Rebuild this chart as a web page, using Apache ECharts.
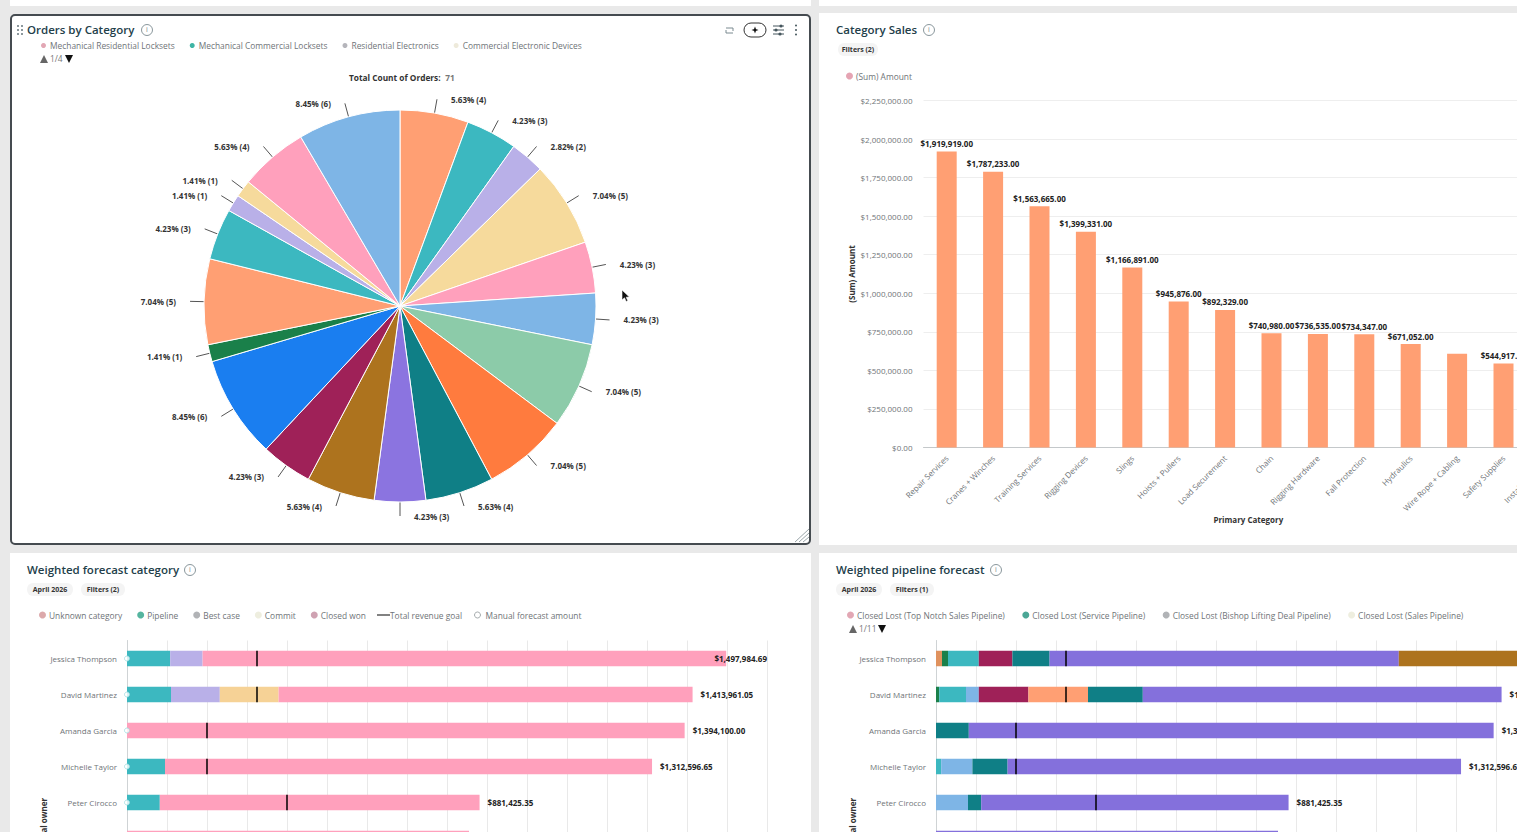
<!DOCTYPE html>
<html>
<head>
<meta charset="utf-8">
<title>Sales dashboard</title>
<script src="https://cdn.jsdelivr.net/npm/echarts@6/dist/echarts.min.js"></script>
<style>
  html, body { margin: 0; padding: 0; width: 1517px; height: 832px; overflow: hidden; background: #e9e9e9; font-family: "Open Sans", sans-serif; }
  .card { position: absolute; background: #fff; overflow: hidden; }
  .chart { position: absolute; left: 0; top: 0; }
  .strip { position: absolute; background: #fff; top: 0; height: 6px; }
  #c1 { left: 10px; top: 14px; width: 801px; height: 531px; box-sizing: border-box; border: 2px solid #454b50; border-radius: 5px; }
  #c2 { left: 819px; top: 13px; width: 760px; height: 532px; }
  #c3 { left: 10px; top: 553px; width: 801px; height: 279px; }
  #c4 { left: 819px; top: 553px; width: 760px; height: 279px; }
  .abs { position: absolute; }
  .title { position: absolute; font-size: 11.5px; font-weight: 600; color: #23404a; white-space: nowrap; line-height: 14px; }
  .info { position: absolute; width: 10px; height: 10px; border: 1px solid #8a979c; border-radius: 50%; color: #77868c; font-size: 7px; line-height: 10px; text-align: center; }
  .chip { position: absolute; height: 13px; line-height: 13px; border-radius: 6px; background: #f4f4f4; font-size: 7px; font-weight: 700; color: #333; text-align: center; }
  .pager { position: absolute; font-size: 8.4px; color: #777; white-space: nowrap; line-height: 12px; }
  .pager span { display: inline-block; width: 0; height: 0; border-left: 4.5px solid transparent; border-right: 4.5px solid transparent; vertical-align: -1px; }
  .pager .up { border-bottom: 8px solid #666; margin-right: 2px; }
  .pager .down { border-top: 8px solid #111; margin-left: 2px; }
</style>
</head>
<body>
<div class="strip" style="left:10px;width:801px"></div>
<div class="strip" style="left:819px;width:698px"></div>

<div class="card" id="c1"><div class="chart" id="pie" style="left:-2px;top:-2px;width:801px;height:531px"></div></div>
<div class="card" id="c2"><div class="chart" id="sales" style="width:760px;height:532px"></div></div>
<div class="card" id="c3"><div class="chart" id="forecast" style="width:801px;height:470px"></div></div>
<div class="card" id="c4"><div class="chart" id="pipeline" style="width:760px;height:470px"></div></div>

<!-- card headers -->
<svg class="abs" style="left:16px;top:24px" width="9" height="12"><g fill="#66767c"><circle cx="2" cy="2" r="1"/><circle cx="6" cy="2" r="1"/><circle cx="2" cy="6" r="1"/><circle cx="6" cy="6" r="1"/><circle cx="2" cy="10" r="1"/><circle cx="6" cy="10" r="1"/></g></svg>
<div class="title" style="left:27px;top:23px">Orders by Category</div><div class="info" style="left:141px;top:24px">i</div>
<div class="title" style="left:836px;top:23px">Category Sales</div><div class="info" style="left:923px;top:24px">i</div>
<div class="title" style="left:27px;top:563px">Weighted forecast category</div><div class="info" style="left:184px;top:564px">i</div>
<div class="title" style="left:836px;top:563px">Weighted pipeline forecast</div><div class="info" style="left:990px;top:564px">i</div>

<div class="chip" style="left:838px;top:43px;width:40px">Filters (2)</div>
<div class="chip" style="left:27px;top:583px;width:46px">April 2026</div>
<div class="chip" style="left:81px;top:583px;width:44px">Filters (2)</div>
<div class="chip" style="left:836px;top:583px;width:46px">April 2026</div>
<div class="chip" style="left:890px;top:583px;width:44px">Filters (1)</div>

<div class="pager" style="left:40px;top:53px"><span class="up"></span>1/4<span class="down"></span></div>
<div class="pager" style="left:849px;top:623px"><span class="up"></span>1/11<span class="down"></span></div>

<!-- toolbar of the selected card -->
<svg class="abs" style="left:722px;top:22px" width="84" height="16">
  <path d="M4 6 L11 6 L11 9 M11 11 L4 11 L4 8" fill="none" stroke="#7a8a90" stroke-width="1"/>
  <rect x="22" y="1" width="22" height="14" rx="7" fill="#fff" stroke="#333" stroke-width="1"/>
  <path d="M33 4.5 L34.3 8 L33 11.5 L31.7 8 Z M29.5 8 L33 6.7 L36.5 8 L33 9.3 Z" fill="#111"/>
  <g stroke="#44555c" stroke-width="1"><line x1="51" y1="4" x2="62" y2="4"/><line x1="51" y1="8" x2="62" y2="8"/><line x1="51" y1="12" x2="62" y2="12"/></g>
  <g fill="#44555c"><circle cx="59" cy="4" r="1.6"/><circle cx="54" cy="8" r="1.6"/><circle cx="58" cy="12" r="1.6"/></g>
  <g fill="#44555c"><circle cx="74" cy="3.5" r="1"/><circle cx="74" cy="8" r="1"/><circle cx="74" cy="12.5" r="1"/></g>
</svg>
<!-- resize grip -->
<svg class="abs" style="left:792px;top:527px" width="18" height="16"><g stroke="#9aa5a9" stroke-width="1"><line x1="17" y1="2" x2="3" y2="15"/><line x1="17" y1="6" x2="7" y2="15"/><line x1="17" y1="10" x2="11" y2="15"/></g></svg>
<!-- mouse pointer -->
<svg class="abs" style="left:621px;top:289px" width="10" height="14"><path d="M1 1 L1 11 L3.5 8.8 L5.2 12.5 L6.8 11.8 L5.2 8.2 L8.4 8 Z" fill="#111" stroke="#fff" stroke-width="0.6"/></svg>

<script>
// Orders by category
const pieCategories = [
  'Mechanical Residential Locksets', 'Mechanical Commercial Locksets', 'Residential Electronics',
  'Commercial Electronic Devices', 'Padlocks', 'Door Closers', 'Exit Devices', 'Hinges', 'Key Blanks',
  'Access Control', 'Cylinders', 'Strikes', 'Safes', 'Pivots', 'Deadbolts', 'Panic Bars',
  'Door Viewers', 'Weatherstrip', 'Key Cabinets', 'Accessories'
];
const pieOrders = [4, 3, 2, 5, 3, 3, 5, 5, 4, 3, 4, 3, 6, 1, 5, 3, 1, 1, 4, 6];
const pieColors = ['#ff9f73', '#3cb8c0', '#b9b0e8', '#f6da9c', '#ffa0bc', '#7eb5e6', '#8ccba9', '#ff7b3e',
  '#0f7f86', '#8b74e0', '#ad731e', '#9f2158', '#1a7ef0', '#1a804a', '#ff9f73', '#3cb8c0',
  '#b9b0e8', '#f6da9c', '#ffa0bc', '#7eb5e6'];
const pieLegendNames = pieCategories.slice(0, 4);
const pieLegendColors = ['#e2a7b4', '#3fb5a5', '#b5b5bb', '#eeeadb'];

// Category sales
const salesCategories = ['Repair Services', 'Cranes + Winches', 'Training Services', 'Rigging Devices', 'Slings',
  'Hoists + Pullers', 'Load Securement', 'Chain', 'Rigging Hardware', 'Fall Protection', 'Hydraulics',
  'Wire Rope + Cabling', 'Safety Supplies', 'Installation Tools'];
const salesAmounts = [1919919, 1787233, 1563665, 1399331, 1166891, 945876, 892329, 740980, 736535, 734347, 671052, 608000, 544917, 500000];
const salesUnlabelled = ['Wire Rope + Cabling'];

// Deal owners shared by both forecast charts
const owners = ['Jessica Thompson', 'David Martinez', 'Amanda Garcia', 'Michelle Taylor', 'Peter Cirocco', 'Ryan Brooks'];
const ownerTotals = [1497984.69, 1413961.05, 1394100, 1312596.65, 881425.35, 855000];
const revenueGoals = [325000, 325000, 200000, 200000, 400000];
const manualForecast = [0, 0, 0, 0, 0, 0];

// Weighted forecast by category
const forecastPipeline = [108000, 110000, 0, 95000, 82000, 0];
const forecastBestCase = [81000, 122000, 0, 0, 0, 0];
const forecastCommit = [0, 147000, 0, 0, 0, 0];
const forecastClosedWon = [1308984.69, 1034961.05, 1394100, 1217596.65, 799425.35, 855000];

// Weighted forecast by pipeline stage
const stageOpening = [15000, 0, 0, 0, 0, 0];
const stageGreen = [15000, 8000, 0, 0, 0, 0];
const stageTeal = [77000, 67000, 0, 13000, 0, 0];
const stageBlue = [0, 32000, 0, 78000, 80000, 0];
const stageCrimson = [84000, 124000, 0, 0, 0, 0];
const stagePeach = [0, 149000, 0, 0, 0, 0];
const stageDarkTeal = [93000, 137000, 82000, 88000, 33000, 0];
const stagePurple = [873000, 896961.05, 1312100, 1133596.65, 768425.35, 855000];
const stageBrown = [340984.69, 0, 0, 0, 0, 0];

const FONT = '"Open Sans", sans-serif';
const GREY = '#6f7478';
const money = v => '$' + v.toLocaleString('en-US', { minimumFractionDigits: 2, maximumFractionDigits: 2 });

function mount(id, option) {
  const chart = echarts.init(document.getElementById(id), null, { renderer: 'svg' });
  chart.setOption(option);
}

function legend(names, colors, left, top, gap, extra) {
  return Object.assign({
    left, top, orient: 'horizontal', itemWidth: 7, itemHeight: 7, itemGap: gap, icon: 'circle', selectedMode: false,
    padding: 0,
    textStyle: { fontFamily: FONT, fontSize: 8.4, color: GREY, padding: [0, 0, 0, -2] },
    data: names.map((name, i) => ({ name, itemStyle: { color: colors[i] } }))
  }, extra || {});
}

// ---- pie ----
mount('pie', {
  animation: false,
  textStyle: { fontFamily: FONT },
  title: {
    left: 339, top: 54, padding: 0,
    text: '{b|Total Count of Orders:} {n|' + pieOrders.reduce((a, b) => a + b, 0) + '}',
    textStyle: { rich: { b: { fontFamily: FONT, fontSize: 8.3, fontWeight: 700, color: '#333' }, n: { fontFamily: FONT, fontSize: 8.3, color: '#777' } } }
  },
  legend: legend(pieLegendNames, pieLegendColors, 29, 27, 13),
  series: [{
    type: 'pie',
    center: [390, 292],
    radius: [0, 196],
    startAngle: 90,
    avoidLabelOverlap: false,
    itemStyle: { borderColor: '#fff', borderWidth: 1 },
    label: {
      show: true, position: 'outside', distanceToLabelLine: 14,
      fontFamily: FONT, fontSize: 8, fontWeight: 700, color: '#333',
      formatter: p => (p.value / pieOrders.reduce((a, b) => a + b, 0) * 100).toFixed(2) + '% (' + p.value + ')'
    },
    labelLine: { show: true, length: 14, length2: 0, lineStyle: { color: '#555', width: 1 } },
    data: pieCategories.map((name, i) => ({ name, value: pieOrders[i], itemStyle: { color: pieColors[i] } }))
  }]
});

// ---- category sales ----
mount('sales', {
  animation: false,
  textStyle: { fontFamily: FONT },
  legend: legend(['(Sum) Amount'], ['#e5a4b3'], 27, 59, 10),
  grid: { left: 104.5, top: 87.5, width: 649.6, height: 347 },
  xAxis: {
    type: 'category', data: salesCategories,
    name: 'Primary Category', nameLocation: 'middle', nameGap: 68, nameMoveOverlap: false,
    nameTextStyle: { fontFamily: FONT, fontSize: 8, fontWeight: 700, color: '#333' },
    axisLine: { lineStyle: { color: '#c4c8ca' } }, axisTick: { show: false },
    axisLabel: { rotate: 45, interval: 0, margin: 9, fontFamily: FONT, fontSize: 8, color: GREY }
  },
  yAxis: {
    type: 'value', min: 0, max: 2250000, interval: 250000,
    name: '(Sum) Amount', nameLocation: 'middle', nameGap: 68, nameMoveOverlap: false,
    nameTextStyle: { fontFamily: FONT, fontSize: 8, fontWeight: 700, color: '#333' },
    axisLine: { show: false }, axisTick: { show: false },
    splitLine: { lineStyle: { color: '#eeeeee' } },
    axisLabel: { margin: 11, fontFamily: FONT, fontSize: 8, color: GREY, formatter: money }
  },
  series: [{
    type: 'bar', name: '(Sum) Amount', barWidth: 20,
    itemStyle: { color: '#ff9f73' },
    labelLayout: { hideOverlap: false },
    label: { show: true, position: 'top', distance: 4, fontFamily: FONT, fontSize: 8, fontWeight: 700, color: '#222', formatter: p => money(p.value) },
    data: salesCategories.map((name, i) => ({
      value: salesAmounts[i],
      label: { show: !salesUnlabelled.includes(name) }
    }))
  }]
});

// ---- horizontal stacked forecasts ----
function stacked(stacks) {
  const gridLeft = 117, gridWidth = 640;
  const list = stacks.map(s => ({
    type: 'bar', name: s.name, stack: 'total', barWidth: 15.5,
    itemStyle: { color: s.color }, data: s.data
  }));
  // zero-length bar at the end of each stack carries the owner's total
  list.push({
    type: 'bar', name: 'Total', stack: 'total', barWidth: 15.5, data: ownerTotals.map(() => 0),
    label: {
      show: true, position: 'right', distance: 8, fontFamily: FONT, fontSize: 8, fontWeight: 700, color: '#222',
      formatter: p => money(ownerTotals[p.dataIndex])
    },
    // keep the total inside the plot when the longest bar leaves no room for it
    labelLayout: p => ({ dx: Math.min(0, gridLeft + gridWidth - (p.labelRect.x + p.labelRect.width)) })
  });
  list.push({
    type: 'scatter', name: 'Total revenue goal', symbol: 'rect', symbolSize: [2, 15.5], z: 5,
    itemStyle: { color: '#000', opacity: 0.75 },
    data: revenueGoals.map((g, i) => [g, i])
  });
  return {
    grid: { left: gridLeft, top: 87.5, width: gridWidth, height: 360 },
    xAxis: {
      type: 'value', min: 0, max: 1600000, interval: 100000,
      axisLabel: { show: false }, axisLine: { show: false }, axisTick: { show: false },
      splitLine: { lineStyle: { color: '#e9e9e9' } }
    },
    yAxis: {
      type: 'category', data: owners, inverse: true, max: 9,
      name: 'Deal owner', nameLocation: 'middle', nameGap: 80, nameMoveOverlap: false,
      nameTextStyle: { fontFamily: FONT, fontSize: 8, fontWeight: 700, color: '#333' },
      axisLine: { lineStyle: { color: '#cfd3d5' } }, axisTick: { show: false },
      axisLabel: { margin: 10, fontFamily: FONT, fontSize: 8, color: GREY, formatter: v => owners.includes(v) ? v : '' }
    },
    series: list
  };
}

const forecastOption = stacked([
  { name: 'Unknown category', color: '#e2a7b4', data: [] },
  { name: 'Pipeline', color: '#3cb8c0', data: forecastPipeline },
  { name: 'Best case', color: '#b9b0e8', data: forecastBestCase },
  { name: 'Commit', color: '#f6d296', data: forecastCommit },
  { name: 'Closed won', color: '#ffa0bc', data: forecastClosedWon }
]);
forecastOption.series.push({
  type: 'scatter', name: 'Manual forecast amount', symbol: 'circle', symbolSize: 5, z: 6,
  itemStyle: { color: '#fff', borderColor: '#9fdde0', borderWidth: 1 },
  data: manualForecast.map((m, i) => [m, i])
});
forecastOption.animation = false;
forecastOption.textStyle = { fontFamily: FONT };
const legendText = padLeft => ({ fontFamily: FONT, fontSize: 8.4, color: GREY, padding: [0, 0, 0, padLeft] });
forecastOption.legend = [
  legend(['Unknown category', 'Pipeline', 'Best case', 'Commit', 'Closed won'],
    ['#dca9ab', '#55b59f', '#b1b3b6', '#eeeedf', '#cfa2b2'], 29, 58, 15),
  legend(['Total revenue goal'], ['#222'], 367, 58, 0, { icon: 'rect', itemWidth: 13, itemHeight: 1.5, textStyle: legendText(-5) }),
  legend(['Manual forecast amount'], ['#fff'], 464, 58, 0, {
    itemWidth: 6, itemHeight: 6, textStyle: legendText(0),
    data: [{ name: 'Manual forecast amount', itemStyle: { color: '#fff', borderColor: '#8f9699', borderWidth: 1 } }]
  })
];
mount('forecast', forecastOption);

const pipelineOption = stacked([
  { name: 'Closed Lost (Top Notch Sales Pipeline)', color: '#e2a7b4', data: [] },
  { name: 'Closed Lost (Service Pipeline)', color: '#4ba796', data: [] },
  { name: 'Closed Lost (Bishop Lifting Deal Pipeline)', color: '#b1b3b6', data: [] },
  { name: 'Closed Lost (Sales Pipeline)', color: '#eeeedf', data: [] },
  { name: 'Qualified', color: '#e0925e', data: stageOpening },
  { name: 'Demo Scheduled', color: '#1a804a', data: stageGreen },
  { name: 'Needs Analysis', color: '#3cb8c0', data: stageTeal },
  { name: 'Proposal Sent', color: '#7eb5e6', data: stageBlue },
  { name: 'Negotiation', color: '#9f2158', data: stageCrimson },
  { name: 'Contract Sent', color: '#ff9f73', data: stagePeach },
  { name: 'Verbal Commit', color: '#0f7f86', data: stageDarkTeal },
  { name: 'Closed Won', color: '#8470dc', data: stagePurple },
  { name: 'Invoiced', color: '#ad731e', data: stageBrown }
]);
pipelineOption.animation = false;
pipelineOption.textStyle = { fontFamily: FONT };
pipelineOption.legend = legend(
  ['Closed Lost (Top Notch Sales Pipeline)', 'Closed Lost (Service Pipeline)', 'Closed Lost (Bishop Lifting Deal Pipeline)', 'Closed Lost (Sales Pipeline)'],
  ['#e2a7b4', '#4ba796', '#b1b3b6', '#eeeedf'], 28, 58, 17.5);
mount('pipeline', pipelineOption);
</script>
</body>
</html>
